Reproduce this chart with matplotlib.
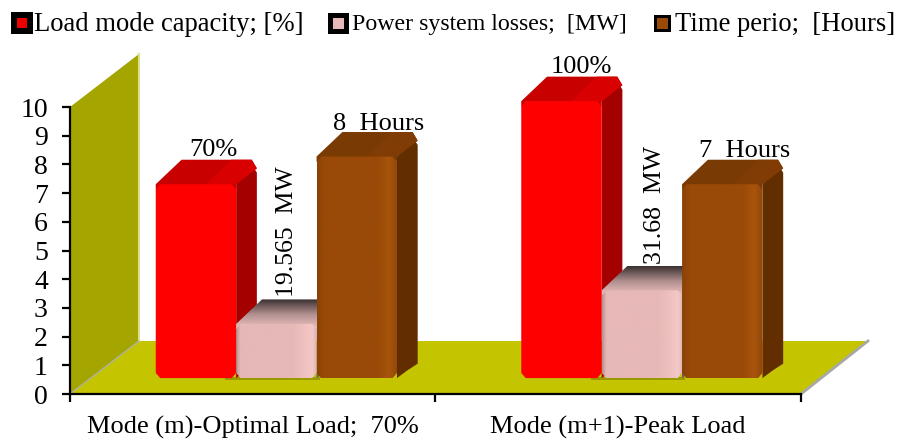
import numpy as np
import matplotlib
matplotlib.use("Agg")
import matplotlib.pyplot as plt
from matplotlib.patches import Polygon, Rectangle
from matplotlib.colors import LinearSegmentedColormap

categories = ["Mode (m)-Optimal Load;  70%", "Mode (m+1)-Peak Load"]
load_capacity = [7, 10]
power_losses = [1.9565, 3.168]
time_period = [8, 7]
load_labels = ["70%", "100%"]
loss_labels = ["19.565  MW", "31.68  MW"]
time_labels = ["8  Hours", "7  Hours"]
legend_labels = ["Load mode capacity; [%]", "Power system losses;  [MW]", "Time perio;  [Hours]"]
yticks = list(range(0, 11))

W, H = 898, 440
plt.rcParams["font.family"] = ["Liberation Serif", "DejaVu Serif"]
fig = plt.figure(figsize=(W / 100, H / 100), dpi=100)
ax = fig.add_axes([70 / W, 1 - 394 / H, (801 - 70) / W, (394 - 107) / H])
ax.set_xlim(0, 2)
ax.set_ylim(0, 10)

DX, DY = 69 / 365.5, 53 / 28.7   # full-depth shift in data units
BASE, THICK = 0.30, 0.30         # bar position within the depth of the floor
YS = 0.965                       # height scale of the bars' plane
BW = 0.22
CENTER = 0.508


def P(x, v, d):
    return (x + d * DX, v * YS + d * DY)


def poly(pts, color, z, ec="none", lw=0):
    ax.add_patch(Polygon(pts, closed=True, fc=color, ec=ec, lw=lw, zorder=z, clip_on=False))


def grad(pts, colors, z, horizontal=False, stops=None):
    pts = np.array(pts)
    x0, x1, y0, y1 = pts[:, 0].min(), pts[:, 0].max(), pts[:, 1].min(), pts[:, 1].max()
    vals = list(zip(stops, colors)) if stops else colors
    cmap = LinearSegmentedColormap.from_list("g", vals)
    arr = np.linspace(0, 1, 128)
    arr = arr[None, :] if horizontal else arr[:, None]
    im = ax.imshow(arr, extent=(x0, x1, y0, y1), origin="lower", cmap=cmap, aspect="auto",
                   vmin=0, vmax=1, zorder=z, interpolation="bilinear")
    clip = Polygon(pts, closed=True, transform=ax.transData)
    im.set_clip_path(clip)
    im.set_clip_box(fig.bbox)
    ax.set_xlim(0, 2)
    ax.set_ylim(0, 10)


def bar3d(x, v, w, front, side, top, top2, z, stops_front=None, top_grad=None):
    ch_x, ch_y = 0.012, 0.18
    bl = P(x, 0, BASE)
    br = P(x + w, 0, BASE)
    tl = P(x, v, BASE)
    tr = P(x + w, v, BASE)
    bb = P(x + w, 0, BASE + THICK)
    tb = P(x + w, v, BASE + THICK)
    # side face, softly cut at the upper and lower back corners
    poly([br, (bb[0] - 0.03, bb[1] - 0.3), (bb[0], bb[1] - 0.05), (tb[0], tb[1] - 0.15), (tb[0] - 0.01, tb[1] + 0.05), tr], side, z)
    # top face
    bkl = P(x, v, BASE + THICK)
    bkl2 = (bkl[0] + 0.014, bkl[1] + 0.3)
    tb2 = (tb[0] - 0.014, tb[1] + 0.3)
    top_pts = [(tl[0], tl[1] - ch_y), tl, bkl2, tb2, (tb[0], tb[1]), tr, (tr[0], tr[1] - ch_y)]
    if top_grad:
        grad(top_pts, top_grad, z + 0.1)
    else:
        poly(top_pts, top, z + 0.1)
        poly([(tl[0] + w * 0.62, tl[1]), (bkl2[0] + w * 0.62, bkl2[1]), tb2, (tb[0], tb[1]), tr], top2, z + 0.15)
    # front face with softened corners
    front_pts = [(bl[0] + ch_x, bl[1]), (br[0] - ch_x, br[1]), (br[0], br[1] + ch_y),
                 (tr[0], tr[1] - ch_y), (tr[0] - ch_x, tr[1]), (tl[0] + ch_x, tl[1]),
                 (tl[0], tl[1] - ch_y), (bl[0], bl[1] + ch_y)]
    if stops_front:
        grad(front_pts, stops_front[0], z + 0.2, horizontal=True, stops=stops_front[1])
    else:
        poly(front_pts, front, z + 0.2)


# walls and floor
wall = [(0, 0), (0, 10), (DX, 10 + DY), (DX, DY)]
poly(wall, "#a5a500", 1)
ax.plot([DX, DX], [DY, 10 + DY], color="#dede90", lw=1.5, zorder=1.1, clip_on=False)
floor = [(0, 0), (DX, DY), (2 + 67 / 365.5, DY), (2, 0)]
poly(floor, "#c4c400", 1)
ax.plot([0, DX], [0, DY], color="#b0b0a0", lw=1, zorder=1.2, clip_on=False)
ax.plot([2, 2 + 67 / 365.5], [0, DY], color="#a8a8a8", lw=2, zorder=1.2, clip_on=False)

RED = dict(front="#ff0000", side="#a50000", top="#c80000", top2="#d80000")
BROWN = dict(front="#9a4a08", side="#622e00", top="#7a3a04", top2="#803c04")
load_offsets = [17, 20]

for i in range(len(categories)):
    c = i + CENTER
    xr, xp, xb = c - 1.5 * BW, c - 0.5 * BW, c + 0.5 * BW
    # soft shadow below the middle bar
    s0, s1 = P(xp - 0.03, -0.07, BASE), P(xb + 0.008, 0.05, BASE)
    ax.add_patch(Rectangle(s0, s1[0] - s0[0], s1[1] - s0[1], fc="#9a9a00", zorder=1.5))
    bar3d(xr, load_capacity[i], BW, RED["front"], RED["side"], RED["top"], RED["top2"], 3)
    bar3d(xp, power_losses[i], BW, "#e6b8b7", "#6a5a5a", "#6a5a5a", "#6a5a5a", 3.5,
          stops_front=(["#b89090", "#e6b8b7", "#e6b8b7", "#f4c8c6", "#dcb0af"], [0, 0.05, 0.7, 0.95, 1]),
          top_grad=["#f2c4c3", "#b08e8e", "#3a3030"])
    bar3d(xb, time_period[i], BW, BROWN["front"], BROWN["side"], BROWN["top"], BROWN["top2"], 4,
          stops_front=(["#8a4206", "#9a4a08", "#9a4a08", "#a8540c", "#90460a"], [0, 0.1, 0.75, 0.9, 1]))
    # value labels
    lx, ly = P(xr + BW / 2, load_capacity[i], BASE)
    ax.annotate(load_labels[i], (lx, ly), xytext=(load_offsets[i], 23), textcoords="offset pixels",
                ha="center", va="bottom", fontsize=19, zorder=8, annotation_clip=False)
    lx, ly = P(xb + BW / 2, time_period[i], BASE)
    ax.annotate(time_labels[i], (lx, ly), xytext=(22, 22), textcoords="offset pixels",
                ha="center", va="bottom", fontsize=19, zorder=8, annotation_clip=False)
    lx, ly = P(xp + BW / 2, power_losses[i], BASE)
    ax.annotate(loss_labels[i], (lx, ly), xytext=(11 + 2 * i, 27 - i), textcoords="offset pixels", rotation=90,
                ha="center", va="bottom", fontsize=18.5, zorder=8, annotation_clip=False)

# axes
for s in ("top", "right"):
    ax.spines[s].set_visible(False)
for s in ("left", "bottom"):
    ax.spines[s].set_linewidth(1.6)
    ax.spines[s].set_zorder(6)
ax.patch.set_visible(False)
ax.set_yticks(yticks)
ax.set_yticklabels([str(t) for t in yticks], fontsize=20)
ax.tick_params(axis="y", length=6, width=1.6, pad=10)
ax.set_xticks([0, 1, 2])
ax.set_xticklabels([])
ax.tick_params(axis="x", which="major", length=6, width=1.6)
ax.set_xticks([0.5, 1.5], minor=True)
ax.set_xticklabels(categories, minor=True, fontsize=19)
ax.tick_params(axis="x", which="minor", length=0, pad=16)

# legend
legend_x = [11, 328, 654]
legend_w = [22, 21, 17]
legend_inset = [6, 5, 3]
text_x = [34, 352, 675]
legend_cols = ["#ee0000", "#e6b8b7", "#9a4a08"]
legend_fs = [19.2, 17.2, 19.2]
bg = fig.add_axes([0, 0, 1, 1], zorder=10)
bg.set_xlim(0, W)
bg.set_ylim(H, 0)
bg.axis("off")
for lx, lw_, ins, tx, col, lab, fs in zip(legend_x, legend_w, legend_inset, text_x, legend_cols, legend_labels, legend_fs):
    h = lw_ if lw_ > 17 else 17
    y0 = 23.5 - h / 2
    bg.add_patch(Rectangle((lx, y0), lw_, h, fc="black", ec="none"))
    bg.add_patch(Rectangle((lx + ins, y0 + ins), lw_ - 2 * ins, h - 2 * ins, fc=col, ec="none"))
    bg.text(tx, 24.5, lab, fontsize=fs, va="center", ha="left")

fig.savefig("out.png", dpi=100)
